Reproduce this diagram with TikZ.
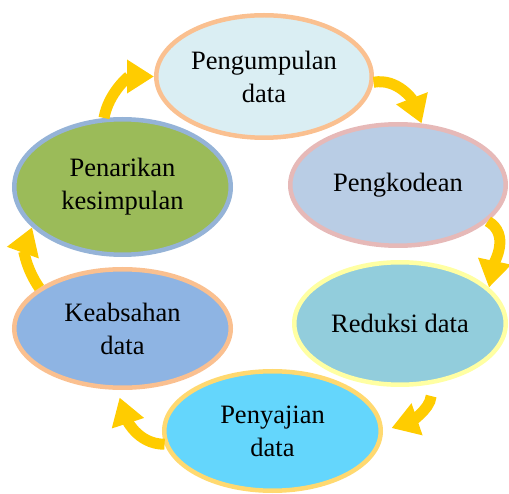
\documentclass[tikz,border=0pt]{standalone}
\usepackage{fontspec}
\setmainfont{Liberation Serif}
\usetikzlibrary{shapes.geometric,arrows.meta}
\definecolor{peach}{HTML}{FAC090}
\definecolor{rose}{HTML}{E6B9B8}
\definecolor{paleyellow}{HTML}{FFFFA3}
\definecolor{goldline}{HTML}{FFD970}
\definecolor{skyline}{HTML}{95B3D7}
\definecolor{arrowgold}{HTML}{FFCC00}

\begin{document}
\begin{tikzpicture}[x=1pt, y=1pt,
    main/.style = {draw, ellipse, line width=4.5pt, align=center, inner sep=0pt,
                   font=\fontsize{26.5}{33}\selectfont},
    arr/.style = {draw=arrowgold, line width=11pt, -{Triangle[length=27pt,width=32pt]}}]
    \useasboundingbox (0,0) rectangle (509,-494);
    \node[main, draw=peach, fill={rgb,255:red,218;green,238;blue,243}, minimum width=215.5, minimum height=122.5] (1) at (264,-76.5) {Pengumpulan\\data};
    \node[main, draw=rose, fill={rgb,255:red,185;green,205;blue,229}, minimum width=215.5, minimum height=121.5] (2) at (398,-185) {Pengkodean};
    \node[main, draw=paleyellow, fill={rgb,255:red,146;green,205;blue,220}, minimum width=211.5, minimum height=122.5] (3) at (400,-323.5) {Reduksi data};
    \node[main, draw=goldline, fill={rgb,255:red,100;green,214;blue,252}, minimum width=216.5, minimum height=119.5] (4) at (272.5,-431) {Penyajian\\data};
    \node[main, draw=peach, fill={rgb,255:red,142;green,180;blue,227}, minimum width=216.5, minimum height=118.5] (5) at (122.5,-328.5) {Keabsahan\\data};
    \node[main, draw=skyline, fill={rgb,255:red,155;green,187;blue,89}, minimum width=216.5, minimum height=135.5] (6) at (122.5,-187) {Penarikan\\kesimpulan};
    \draw[arr] (6.105) to[out=80, in=180] (1.west);
    \draw[arr] (1.-3) to[out=10, in=111] (2.69);
    \draw[arr] (2.-22) to[out=-30, in=78] (3.22);
    \draw[arr, shorten <=12pt, shorten >=9pt] (3.-62) to[out=-95, in=19] (4.east);
    \draw[arr, shorten >=8pt] (4.187) to[out=180, in=-72] (5.265);
    \draw[arr] (5.154) to[out=125, in=250] (6.204);
\end{tikzpicture}
\end{document}
